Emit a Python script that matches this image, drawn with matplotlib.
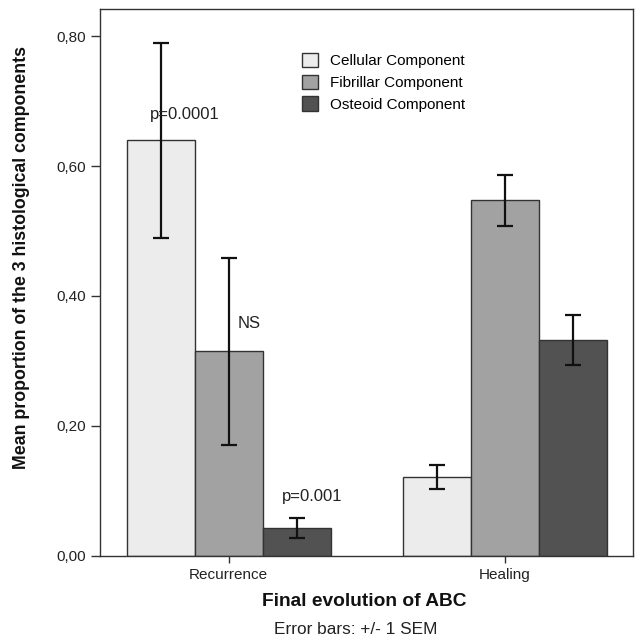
import numpy as np
import matplotlib
matplotlib.use("Agg")
import matplotlib.pyplot as plt

plt.rcParams['font.family'] = ['Liberation Sans', 'DejaVu Sans']

groups = ["Recurrence", "Healing"]
components = ["Cellular Component", "Fibrillar Component", "Osteoid Component"]
means = {
    "Cellular Component": [0.640, 0.121],
    "Fibrillar Component": [0.315, 0.547],
    "Osteoid Component": [0.043, 0.332],
}
sem = {
    "Cellular Component": [0.150, 0.019],
    "Fibrillar Component": [0.144, 0.039],
    "Osteoid Component": [0.015, 0.039],
}
colors = ["#ececec", "#a1a2a1", "#525252"]
annotations = [("p=0.0001", -0.285, 0.679), ("NS", 0.034, 0.358), ("p=0.001", 0.192, 0.091)]

fig = plt.figure(figsize=(6.35, 6.38), dpi=100)
ax = fig.add_axes([0.1575, 0.129, 0.8394, 0.857])

x = np.arange(len(groups))
w = 0.2464
for i, comp in enumerate(components):
    pos = x + (i - 1) * w
    ax.bar(pos, means[comp], width=w, color=colors[i], edgecolor="#333333",
           linewidth=1.0, label=comp, zorder=2)
    ax.errorbar(pos, means[comp], yerr=sem[comp], fmt="none", ecolor="#111111",
                elinewidth=1.6, capsize=6, capthick=1.6, zorder=3)

for txt, tx, ty in annotations:
    ax.text(tx, ty, txt, fontsize=12, ha="left", va="center", color="#222222", zorder=4)

ax.set_xlim(-0.466, 1.465)
ax.set_ylim(0, 0.842)
ax.set_xticks(x)
ax.set_xticklabels(groups, fontsize=11, color="#222222")
yt = [0, 0.2, 0.4, 0.6, 0.8]
ax.set_yticks(yt)
ax.set_yticklabels([f"{v:.2f}".replace(".", ",") for v in yt], fontsize=11, color="#222222")
ax.tick_params(axis="y", length=6.5, width=1.0, color="#333333")
ax.tick_params(axis="x", length=5, width=1.0, color="#333333")
for s in ax.spines.values():
    s.set_color("#333333")
    s.set_linewidth(1.0)

# axis titles placed as figure text to match the original layout
fig.text(21.5 / 635, 1 - 257.5 / 638, "Mean proportion of the 3 histological components",
         fontsize=12.8, fontweight="bold", rotation=90, ha="center", va="center",
         color="#111111")
fig.text(364 / 635, 1 - 601.5 / 638, "Final evolution of ABC", fontsize=13.8,
         fontweight="bold", ha="center", va="center", color="#111111")
fig.text(356 / 635, 1 - 629 / 638, "Error bars: +/- 1 SEM", fontsize=12.4, ha="center",
         va="center", color="#222222")

leg = ax.legend(loc="upper left", bbox_to_anchor=(0.379, 0.92), frameon=False,
                fontsize=11, handlelength=1.05, handleheight=1.05, handletextpad=0.8,
                labelspacing=0.43, borderpad=0, borderaxespad=0)
for h in leg.legend_handles:
    h.set_edgecolor("#333333")

fig.savefig("out.png", dpi=100)
